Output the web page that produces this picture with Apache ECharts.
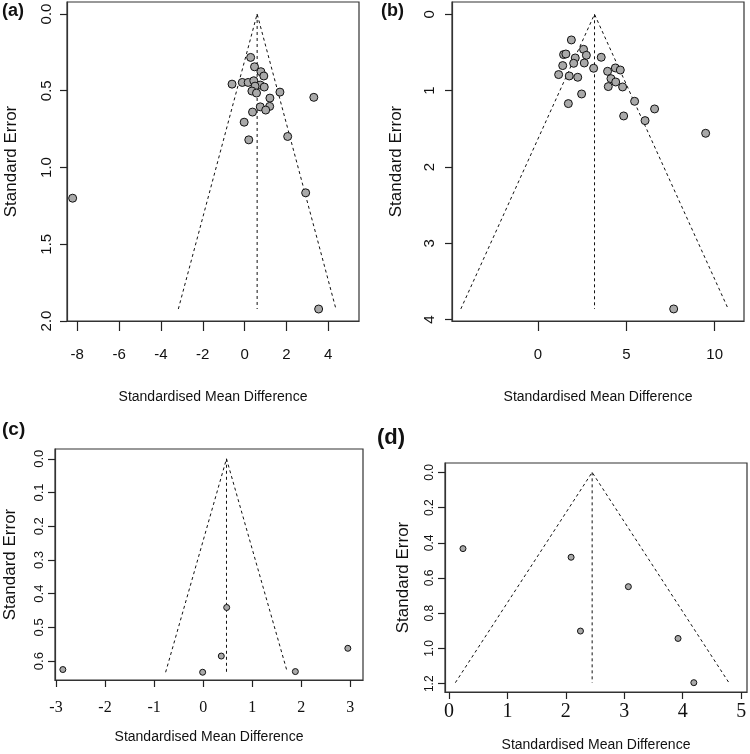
<!DOCTYPE html>
<html>
<head>
<meta charset="utf-8">
<script src="https://cdn.jsdelivr.net/npm/echarts@6/dist/echarts.min.js"></script>
<style>html,body{margin:0;padding:0;background:#fff}#c{width:750px;height:754px}</style>
</head>
<body>
<div id="c"></div>
<script>
// ---------- DATA ----------
// Panel (a)
const aSMD = [-8.22, 0.29, 0.475, 0.78, 0.92, -0.6, -0.11, 0.17, 0.44, 0.75, 0.94, 0.5, 0.35, 0.57, 1.69, 3.31, 1.21, 1.2, 0.75, 1.01, 0.38, -0.02, 2.06, 0.2, 2.92, 3.54];
const aSE  = [1.20, 0.283, 0.344, 0.376, 0.404, 0.457, 0.446, 0.446, 0.435, 0.463, 0.476, 0.47, 0.502, 0.515, 0.509, 0.543, 0.548, 0.602, 0.605, 0.626, 0.639, 0.705, 0.798, 0.82, 1.165, 1.922];
const aPooled = 0.6;
const aXTicks = [-8, -6, -4, -2, 0, 2, 4];
const aYTicks = [0, 0.5, 1.0, 1.5, 2.0];

// Panel (b)
const bSMD = [1.89, 2.58, 1.45, 1.58, 2.74, 3.58, 2.11, 1.4, 2.02, 2.62, 3.15, 1.17, 1.77, 2.25, 3.94, 4.38, 4.66, 4.13, 4.4, 3.98, 4.79, 2.47, 1.72, 5.47, 6.6, 4.85, 6.06, 9.49, 7.68];
const bSE  = [0.336, 0.459, 0.528, 0.52, 0.537, 0.563, 0.572, 0.672, 0.642, 0.638, 0.707, 0.79, 0.808, 0.825, 0.747, 0.703, 0.73, 0.843, 0.887, 0.947, 0.952, 1.044, 1.17, 1.14, 1.24, 1.332, 1.393, 1.559, 3.86];
const bPooled = 3.2;
const bXTicks = [0, 5, 10];
const bYTicks = [0, 1, 2, 3, 4];

// Panel (c)
const cSMD = [-2.86, -0.01, 0.37, 0.48, 1.88, 2.95];
const cSE  = [0.625, 0.633, 0.585, 0.441, 0.631, 0.562];
const cPooled = 0.476;
const cXTicks = [-3, -2, -1, 0, 1, 2, 3];
const cYTicks = [0, 0.1, 0.2, 0.3, 0.4, 0.5, 0.6];

// Panel (d)
const dSMD = [0.24, 2.09, 3.07, 2.25, 3.92, 4.19];
const dSE  = [0.433, 0.482, 0.649, 0.901, 0.943, 1.194];
const dPooled = 2.45;
const dXTicks = [0, 1, 2, 3, 4, 5];
const dYTicks = [0, 0.2, 0.4, 0.6, 0.8, 1.0, 1.2];

const panelLabels = ['(a)', '(b)', '(c)', '(d)'];
const xName = 'Standardised Mean Difference';
const yName = 'Standard Error';

// ---------- CHART ----------
const SANS = "'Liberation Sans', Arial, sans-serif";
const SERIF = "'Liberation Serif', 'Times New Roman', serif";

const panels = [
  {smd: aSMD, se: aSE, pooled: aPooled, xt: aXTicks, yt: aYTicks, yDec: 1,
   grid: {left: 67, top: 2, width: 292, height: 319},
   xr: [-8.49, 5.47], yr: [-0.078, 2.0],
   xFont: SANS, xSize: 15, xMargin: 26, yLabSize: 15, yMargin: 13,
   xGap: 69, yGap: 47, sym: 8, xTick: 10},
  {smd: bSMD, se: bSE, pooled: bPooled, xt: bXTicks, yt: bYTicks, yDec: 0,
   grid: {left: 452, top: 2, width: 292, height: 319},
   xr: [-4.865, 11.66], yr: [-0.161, 4.018],
   xFont: SANS, xSize: 15, xMargin: 26, yLabSize: 15, yMargin: 15,
   xGap: 69, yGap: 47, sym: 8, xTick: 10},
  {smd: cSMD, se: cSE, pooled: cPooled, xt: cXTicks, yt: cYTicks, yDec: 1,
   grid: {left: 55, top: 449, width: 308, height: 231},
   xr: [-3.02, 3.259], yr: [-0.029, 0.656],
   xFont: SERIF, xSize: 16, xMargin: 20, yLabSize: 13, yMargin: 9,
   xGap: 50, yGap: 36, sym: 6, xTick: 7},
  {smd: dSMD, se: dSE, pooled: dPooled, xt: dXTicks, yt: dYTicks, yDec: 1,
   grid: {left: 445, top: 463, width: 302, height: 229},
   xr: [-0.068, 5.1], yr: [-0.053, 1.247],
   xFont: SERIF, xSize: 20, xMargin: 10, yLabSize: 12, yMargin: 9,
   xGap: 46, yGap: 33, sym: 6, xTick: 7}
];

const grids = [], xAxes = [], yAxes = [], series = [];
panels.forEach((p, i) => {
  grids.push(Object.assign({show: true, borderColor: '#333', borderWidth: 1.2, backgroundColor: 'transparent'}, p.grid));
  xAxes.push({
    type: 'value', gridIndex: i, position: 'bottom', min: p.xr[0], max: p.xr[1],
    name: xName, nameLocation: 'middle', nameGap: p.xGap,
    nameTextStyle: {fontFamily: SANS, fontSize: 14, color: '#111'},
    axisLine: {show: true, onZero: false, lineStyle: {color: '#333', width: 1.2}}, splitLine: {show: false},
    axisTick: {show: true, inside: false, length: p.xTick, customValues: p.xt.slice(), lineStyle: {color: '#222', width: 1.2}},
    axisLabel: {show: true, customValues: p.xt.slice(), margin: p.xMargin, fontFamily: p.xFont, fontSize: p.xSize, color: '#111',
      formatter: v => String(v)}
  });
  yAxes.push({
    type: 'value', gridIndex: i, position: 'left', min: p.yr[0], max: p.yr[1], inverse: true,
    name: yName, nameLocation: 'middle', nameGap: p.yGap, nameRotate: 90,
    nameTextStyle: {fontFamily: SANS, fontSize: 17, color: '#111'},
    axisLine: {show: true, onZero: false, lineStyle: {color: '#333', width: 1.2}}, splitLine: {show: false},
    axisTick: {show: true, inside: false, length: 7, customValues: p.yt.slice(), lineStyle: {color: '#222', width: 1.2}},
    axisLabel: {show: true, customValues: p.yt.slice(), rotate: 90, margin: p.yMargin, fontFamily: SANS, fontSize: p.yLabSize, color: '#111',
      formatter: v => Number(v).toFixed(p.yDec)}
  });
  const maxSE = Math.max(...p.se);
  const half = 1.96 * maxSE;
  const dash = {color: '#111', width: 1, type: [3, 3]};
  series.push({
    type: 'line', xAxisIndex: i, yAxisIndex: i, symbol: 'none', silent: true, clip: false,
    lineStyle: dash,
    data: [[p.pooled - half, maxSE], [p.pooled, 0], [p.pooled + half, maxSE]]
  });
  series.push({
    type: 'line', xAxisIndex: i, yAxisIndex: i, symbol: 'none', silent: true, clip: false,
    lineStyle: dash,
    data: [[p.pooled, 0], [p.pooled, maxSE]]
  });
  series.push({
    type: 'scatter', xAxisIndex: i, yAxisIndex: i, symbol: 'circle', symbolSize: p.sym, z: 3, clip: false,
    itemStyle: {color: '#a9a9a9', borderColor: '#111', borderWidth: 1, opacity: 1},
    data: p.smd.map((x, k) => [x, p.se[k]])
  });
});

const titles = [
  {text: panelLabels[0], left: 2, top: 2, textStyle: {fontFamily: SANS, fontWeight: 'bold', fontSize: 18, color: '#111'}, padding: 0},
  {text: panelLabels[1], left: 381, top: 2, textStyle: {fontFamily: SANS, fontWeight: 'bold', fontSize: 18, color: '#111'}, padding: 0},
  {text: panelLabels[2], left: 2, top: 420, textStyle: {fontFamily: SANS, fontWeight: 'bold', fontSize: 19, color: '#111'}, padding: 0},
  {text: panelLabels[3], left: 377, top: 427, textStyle: {fontFamily: SANS, fontWeight: 'bold', fontSize: 22, color: '#111'}, padding: 0}
];

const chart = echarts.init(document.getElementById('c'), null, {renderer: 'canvas'});
chart.setOption({
  animation: false,
  backgroundColor: '#fff',
  title: titles,
  grid: grids,
  xAxis: xAxes,
  yAxis: yAxes,
  series: series
});
</script>
</body>
</html>
